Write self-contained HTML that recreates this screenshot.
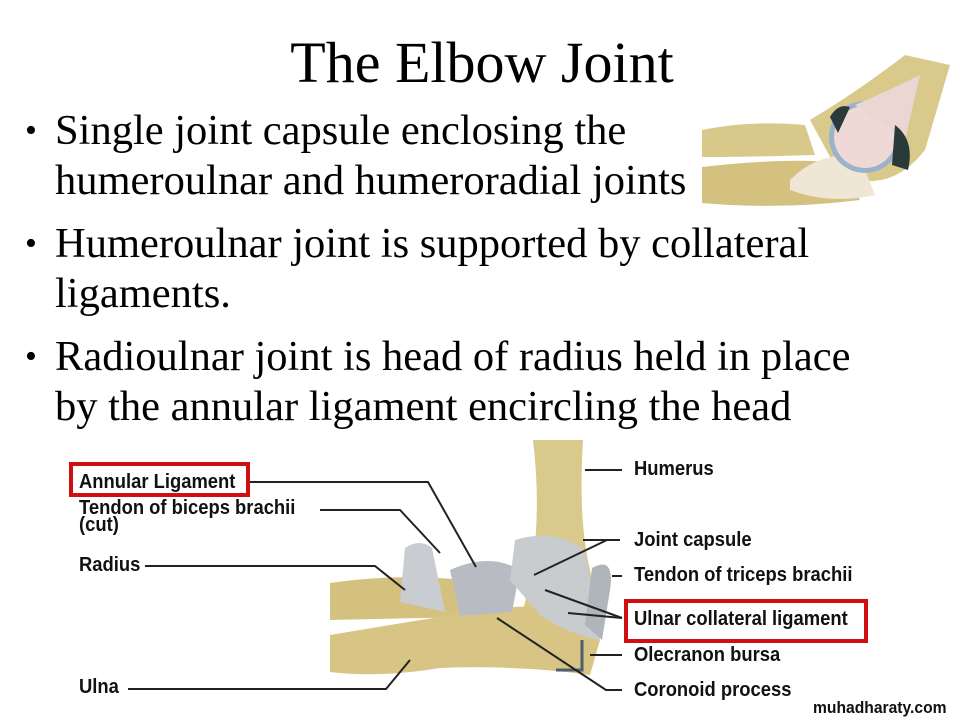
<!DOCTYPE html>
<html><head><meta charset="utf-8"><style>
body{margin:0;width:960px;height:720px;background:#fff;position:relative;overflow:hidden;font-family:"Liberation Serif",serif}
.t{position:absolute;left:0;width:964px;text-align:center;top:28px;font-size:58px;line-height:70px;color:#000}
.b{position:absolute;left:25px;font-size:42.5px;line-height:50px;color:#000;white-space:nowrap}
.b span{position:absolute;left:0;font-size:34px}
.b div{padding-left:30px}
.l{position:absolute;font-family:"Liberation Sans",sans-serif;font-weight:bold;font-size:20px;color:#111;transform:scaleX(0.92);transform-origin:left;white-space:nowrap;line-height:20px}
</style></head><body>
<div class="t">The Elbow Joint</div>
<div class="b" style="top:106px"><span>•</span><div>Single joint capsule enclosing the<br>humeroulnar and humeroradial joints</div></div>
<div class="b" style="top:219px"><span>•</span><div>Humeroulnar joint is supported by collateral<br>ligaments.</div></div>
<div class="b" style="top:332px"><span>•</span><div>Radioulnar joint is head of radius held in place<br>by the annular ligament encircling the head</div></div>

<svg style="position:absolute;left:690px;top:45px" width="270" height="165">
<path d="M12 85 Q60 75 115 80 L125 110 Q60 112 12 112Z" fill="#d8c98a"/>
<path d="M12 122 Q100 112 150 118 L170 155 Q90 165 12 158Z" fill="#d4c17f"/>
<path d="M120 75 Q170 45 215 10 L260 20 L235 105 Q200 150 150 130Z" fill="#d9ca8c"/>
<path d="M100 135 Q130 105 170 112 L185 150 Q140 160 100 145Z" fill="#efe6d6"/>
<circle cx="175" cy="92" r="36" fill="#9ab2cc"/>
<circle cx="175" cy="92" r="31" fill="#efd9d6"/>
<path d="M165 60 Q200 45 230 30 L215 95 Z" fill="#ead6d2"/>
<path d="M205 80 Q225 95 218 125 L202 120Z" fill="#2a3a3a"/>
<path d="M140 72 Q148 58 160 62 L148 88Z" fill="#2a3a3a"/>
</svg>

<svg style="position:absolute;left:0;top:440px" width="960" height="280">
<path d="M533 0 L583 0 Q578 80 590 130 L600 180 L520 180 Q545 100 533 0Z" fill="#d9c98a"/>
<path d="M330 143 Q400 133 462 140 L470 177 L330 180Z" fill="#d4c17f"/>
<path d="M330 195 Q420 180 470 172 Q540 160 585 175 L600 200 L590 235 Q520 225 440 228 Q380 238 330 232Z" fill="#d8c585"/>
<path d="M405 108 Q420 98 432 108 L445 172 L400 162Z" fill="#c9ccd0"/>
<path d="M450 130 Q490 112 520 130 L512 172 L460 176Z" fill="#b8bcc2"/>
<path d="M515 100 Q555 88 585 110 L600 200 Q570 195 540 175 L510 140Z" fill="#c8cccf"/>
<path d="M592 128 Q615 115 610 150 L602 200 L585 185Z" fill="#b0b5ba"/>
<path d="M582 200 L582 230 L556 230" stroke="#4a6070" stroke-width="3" fill="none"/>
<g stroke="#222" stroke-width="2" fill="none">
<polyline points="250,42 428,42 476,127"/>
<polyline points="320,70 400,70 440,113"/>
<polyline points="145,126 375,126 405,150"/>
<polyline points="128,249 386,249 410,220"/>
<polyline points="585,30 622,30"/>
<polyline points="620,100 607,100 583,100"/>
<polyline points="607,100 534,135"/>
<polyline points="612,136 622,136"/>
<polyline points="622,178 568,173"/>
<polyline points="622,178 545,150"/>
<polyline points="590,215 622,215"/>
<polyline points="622,250 606,250 497,178"/>
</g>
<rect x="71" y="24" width="177" height="31" fill="none" stroke="#d01010" stroke-width="4"/>
<rect x="626" y="161" width="240" height="40" fill="none" stroke="#d01010" stroke-width="4"/>
</svg>
<div class="l" style="left:79px;top:472px">Annular Ligament</div>
<div class="l" style="left:79px;top:500px;line-height:17px">Tendon of biceps brachii<br>(cut)</div>
<div class="l" style="left:79px;top:555px">Radius</div>
<div class="l" style="left:79px;top:677px">Ulna</div>
<div class="l" style="left:634px;top:459px">Humerus</div>
<div class="l" style="left:634px;top:530px">Joint capsule</div>
<div class="l" style="left:634px;top:565px">Tendon of triceps brachii</div>
<div class="l" style="left:634px;top:609px">Ulnar collateral ligament</div>
<div class="l" style="left:634px;top:645px">Olecranon bursa</div>
<div class="l" style="left:634px;top:680px">Coronoid process</div>
<div class="l" style="left:813px;top:698px;font-size:17px">muhadharaty.com</div>
</body></html>
